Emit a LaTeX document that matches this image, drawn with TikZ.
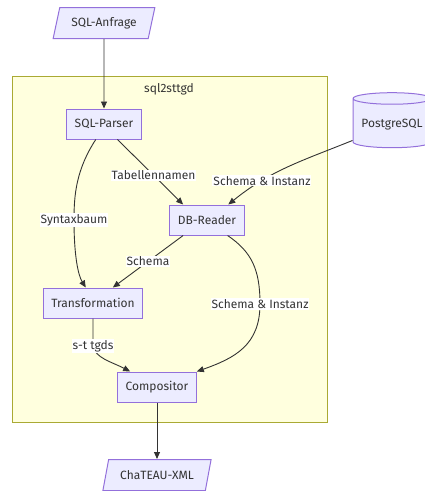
\documentclass[tikz,border=0pt]{standalone}
\usepackage{fontspec}
\setmainfont{Fira Sans}
\usepackage{xcolor}
\usepackage{tikz}
\usetikzlibrary{positioning}
\usetikzlibrary{arrows.meta,shapes.geometric}

\definecolor{nodefill}{HTML}{ECECFF}
\definecolor{nodeline}{HTML}{9370DB}
\definecolor{clusterfill}{HTML}{FFFFDE}
\definecolor{clusterline}{HTML}{AAAA33}
\definecolor{edgeline}{HTML}{333333}

\begin{document}
\begin{tikzpicture}[->,>={Triangle[length=7pt,width=6pt]},x=1pt,y=-1pt,
  font=\fontsize{12}{14}\selectfont,text=edgeline,
  every edge/.style={draw=edgeline,line width=0.9pt},
  link/.style={draw=edgeline,line width=0.9pt},
  proc/.style={draw=nodeline,fill=nodefill,line width=1pt,rectangle,
    minimum height=30pt,inner xsep=8pt},
  io/.style={draw=nodeline,fill=nodefill,line width=1pt,trapezium,
    trapezium left angle=70,trapezium right angle=110,
    trapezium stretches=true,minimum height=31pt,inner xsep=11.5pt},
  lbl/.style={fill=white,inner sep=1pt,text=edgeline}]
  \useasboundingbox (0,0) rectangle (424,491);
  % cluster
  \node[draw=clusterline,fill=clusterfill,line width=1pt,minimum width=315pt,
    minimum height=346pt] (cluster) at (169.5,249) {};
  \node (title) at (169,89) {sql2sttgd};
  % nodes
  \node[io] (query) at (104,23) {SQL-Anfrage};
  \node[proc] (parser) at (104,124) {SQL-Parser};
  \node[proc] (reader) at (207,220) {DB-Reader};
  \node[proc] (trans) at (93,303) {Transformation};
  \node[proc] (comp) at (157,387) {Compositor};
  \node[io] (xml) [below of=comp,node distance=88pt] {ChaTEAU-XML};
  \node[draw=nodeline,fill=nodefill,line width=1pt,cylinder,
    shape border rotate=90,aspect=0.17,minimum width=78pt,
    minimum height=55pt] (pg) at (392,124.5) {PostgreSQL};
  % edges
  \path[->] (query) edge (parser)
    (parser.311) edge node[lbl,pos=0.55] {Tabellennamen} (reader.147)
    (pg.202) edge[out=202,in=39] node[lbl,pos=0.72] {Schema \& Instanz} (reader.36)
    (reader.213) edge node[lbl] {Schema} (trans.38)
    (comp) edge (xml);
  \draw[link] (parser.242) .. controls (76,170) and (74,195) .. (74,220)
    node[lbl] {Syntaxbaum} .. controls (74,255) and (78,275) .. (trans.115);
  \draw[link] (reader.323) .. controls (252,252) and (260,270) .. (260,304)
    node[lbl] {Schema \& Instanz} .. controls (260,345) and (235,358) .. (comp.north east);
  \draw[link] (trans.south) .. controls (93,330) and (93,338) .. (93,346)
    node[lbl] {s-t tgds} .. controls (95,358) and (112,362) .. (comp.150);
\end{tikzpicture}
\end{document}
